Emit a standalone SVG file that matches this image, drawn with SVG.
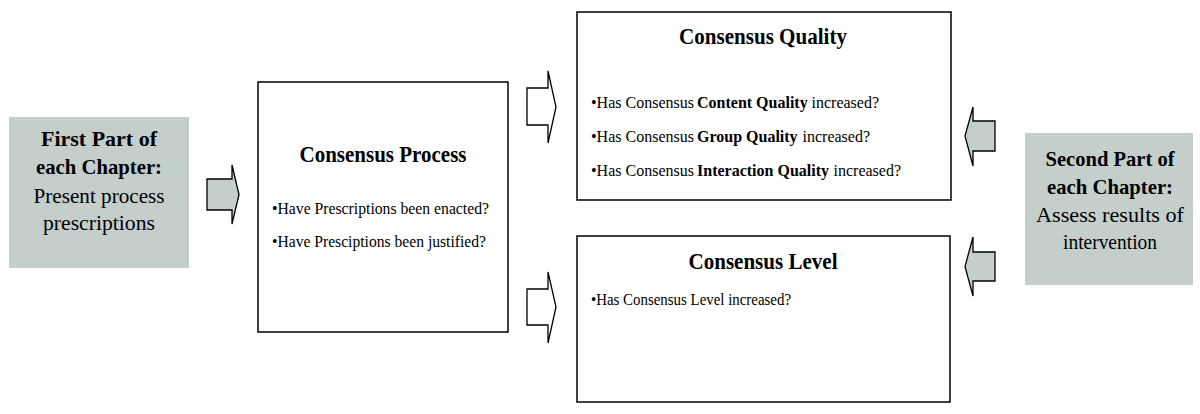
<svg xmlns="http://www.w3.org/2000/svg" width="1200" height="414" viewBox="0 0 1200 414">
  <style>
    .panel { fill: #C4CFCC; stroke: none; }
    .box { fill: #FFFFFF; stroke: #000000; stroke-width: 1.5; }
    .arrow-grey { fill: #C4CFCC; stroke: #000000; stroke-width: 1.3; stroke-linejoin: miter; }
    .arrow-white { fill: #FFFFFF; stroke: #000000; stroke-width: 1.3; stroke-linejoin: miter; }
    text { font-family: 'Liberation Serif', 'Times New Roman', serif; fill: #000000; }
    .side-b { font-size: 22px; font-weight: bold; text-anchor: middle; }
    .side-r { font-size: 22px; text-anchor: middle; }
    .title { font-size: 23px; font-weight: bold; text-anchor: middle; }
    .bullet { font-size: 16px; }
    .bullet-b { font-size: 16px; font-weight: bold; }
  </style>

  <!-- First part of each chapter -->
  <g id="first-part">
    <rect class="panel" x="9" y="117" width="180" height="151"/>
    <text class="side-b" x="99" y="146" textLength="116" lengthAdjust="spacingAndGlyphs">First Part of</text>
    <text class="side-b" x="99" y="174" textLength="126" lengthAdjust="spacingAndGlyphs">each Chapter:</text>
    <text class="side-r" x="99" y="203" textLength="131" lengthAdjust="spacingAndGlyphs">Present process</text>
    <text class="side-r" x="99" y="230" textLength="112" lengthAdjust="spacingAndGlyphs">prescriptions</text>
  </g>

  <!-- Consensus process -->
  <g id="consensus-process">
    <rect class="box" x="258" y="82" width="250" height="250"/>
    <text class="title" x="383" y="162" textLength="167" lengthAdjust="spacingAndGlyphs">Consensus Process</text>
    <text class="bullet" x="272" y="214" textLength="217" lengthAdjust="spacingAndGlyphs">•Have Prescriptions been enacted?</text>
    <text class="bullet" x="272" y="247" textLength="214" lengthAdjust="spacingAndGlyphs">•Have Presciptions been justified?</text>
  </g>

  <!-- Consensus quality: each question line is set as regular / bold / regular runs -->
  <g id="consensus-quality">
    <rect class="box" x="577" y="12" width="374" height="188"/>
    <text class="title" x="763" y="44" textLength="168" lengthAdjust="spacingAndGlyphs">Consensus Quality</text>

    <text class="bullet" x="591" y="108">•Has Consensus</text>
    <text class="bullet-b" x="697" y="108">Content Quality</text>
    <text class="bullet" x="811.5" y="108">increased?</text>

    <text class="bullet" x="591" y="142">•Has Consensus</text>
    <text class="bullet-b" x="697" y="142">Group Quality</text>
    <text class="bullet" x="802.5" y="142">increased?</text>

    <text class="bullet" x="591" y="176">•Has Consensus</text>
    <text class="bullet-b" x="697" y="176">Interaction Quality</text>
    <text class="bullet" x="833.5" y="176">increased?</text>
  </g>

  <!-- Consensus level -->
  <g id="consensus-level">
    <rect class="box" x="577" y="236" width="373" height="166"/>
    <text class="title" x="763" y="269" textLength="149" lengthAdjust="spacingAndGlyphs">Consensus Level</text>
    <text class="bullet" x="591" y="305" textLength="200" lengthAdjust="spacingAndGlyphs">•Has Consensus Level increased?</text>
  </g>

  <!-- Second part of each chapter -->
  <g id="second-part">
    <rect class="panel" x="1025" y="133" width="168" height="152"/>
    <text class="side-b" x="1110" y="166" textLength="129" lengthAdjust="spacingAndGlyphs">Second Part of</text>
    <text class="side-b" x="1110" y="194" textLength="126" lengthAdjust="spacingAndGlyphs">each Chapter:</text>
    <text class="side-r" x="1110" y="222" textLength="148" lengthAdjust="spacingAndGlyphs">Assess results of</text>
    <text class="side-r" x="1110" y="249" textLength="94" lengthAdjust="spacingAndGlyphs">intervention</text>
  </g>

  <!-- Block arrows -->
  <g id="connectors">
    <polygon class="arrow-grey" points="207,179 232,179 232,165 239,194.5 232,224 232,210 207,210"/>
    <polygon class="arrow-white" points="527,88 548,88 548,71 556,107 548,143 548,125 527,125"/>
    <polygon class="arrow-white" points="527,289 548,289 548,272 556,307 548,343 548,325 527,325"/>
    <polygon class="arrow-grey" points="995,121 973,121 973,107 965,136 973,166 973,151 995,151"/>
    <polygon class="arrow-grey" points="995,252 973,252 973,237 965,266.5 973,296 973,281 995,281"/>
  </g>
</svg>
